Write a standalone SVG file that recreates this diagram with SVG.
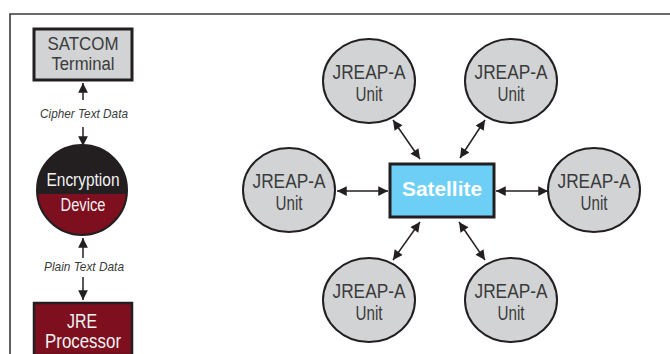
<svg xmlns="http://www.w3.org/2000/svg" width="670" height="354" viewBox="0 0 670 354">
  <style>
    .frame { fill: none; stroke: #3a3a3a; stroke-width: 1.6; }
    .lbl { font-family: "Liberation Sans", Arial, sans-serif; text-anchor: middle; }
    .dark { fill: #3b3b3b; }
    .light { fill: #f2f2f2; }
    .unit ellipse { fill: #d1d3d4; stroke: #231f20; stroke-width: 2; }
    .unit text { font-size: 20px; }
    .data { font-size: 13px; font-style: italic; fill: #3b3b3b; }
    .link { stroke: #231f20; stroke-width: 1.5; fill: none; }
    .biarrow { marker-start: url(#head); marker-end: url(#head); }
  </style>
  <defs>
    <marker id="head" viewBox="0 0 10 10" refX="10" refY="5" markerWidth="7" markerHeight="6.5" markerUnits="strokeWidth" orient="auto-start-reverse">
      <path d="M0,0 L10,5 L0,10 Z" fill="#231f20"/>
    </marker>
  </defs>

  <!-- page frame: top and left rules -->
  <path class="frame" d="M10,354 L10,14 L670,14"/>

  <!-- left column: crypto chain -->
  <g id="satcom-terminal">
    <rect x="34" y="29" width="98" height="51" fill="#d1d3d4" stroke="#231f20" stroke-width="3"/>
    <text class="lbl dark" x="83" y="50" font-size="18" textLength="71" lengthAdjust="spacingAndGlyphs">SATCOM</text>
    <text class="lbl dark" x="83" y="70" font-size="18" textLength="63" lengthAdjust="spacingAndGlyphs">Terminal</text>
  </g>

  <g id="encryption-device">
    <clipPath id="enc-clip"><circle cx="82" cy="190" r="45"/></clipPath>
    <g clip-path="url(#enc-clip)">
      <rect x="36" y="144" width="92" height="50" fill="#231f20"/>
      <rect x="36" y="194" width="92" height="52" fill="#7d0f1f"/>
    </g>
    <circle cx="82" cy="190" r="45" fill="none" stroke="#231f20" stroke-width="2"/>
    <text class="lbl light" x="83" y="186" font-size="19" textLength="73" lengthAdjust="spacingAndGlyphs">Encryption</text>
    <text class="lbl light" x="83" y="211" font-size="19" textLength="45" lengthAdjust="spacingAndGlyphs">Device</text>
  </g>

  <g id="jre-processor">
    <rect x="34" y="303" width="98" height="52" fill="#7d0f1f" stroke="#231f20" stroke-width="2.5"/>
    <text class="lbl light" x="82" y="328" font-size="20" textLength="30" lengthAdjust="spacingAndGlyphs">JRE</text>
    <text class="lbl light" x="83" y="348" font-size="20" textLength="76" lengthAdjust="spacingAndGlyphs">Processor</text>
  </g>

  <g id="left-links">
    <line class="link" x1="83" y1="100" x2="83" y2="83" marker-end="url(#head)"/>
    <text class="lbl data" x="84" y="118" textLength="88" lengthAdjust="spacingAndGlyphs">Cipher Text Data</text>
    <line class="link" x1="83" y1="127" x2="83" y2="146" marker-end="url(#head)"/>
    <line class="link" x1="83" y1="258" x2="83" y2="238" marker-end="url(#head)"/>
    <text class="lbl data" x="84" y="271" textLength="80" lengthAdjust="spacingAndGlyphs">Plain Text Data</text>
    <line class="link" x1="83" y1="277" x2="83" y2="300" marker-end="url(#head)"/>
  </g>

  <!-- right side: satellite hub with JREAP-A units -->
  <g id="satellite">
    <rect x="390" y="164" width="104" height="53" fill="#6dcff6" stroke="#231f20" stroke-width="3"/>
    <text class="lbl" x="442" y="196" font-size="20" font-weight="bold" fill="#ffffff" textLength="80" lengthAdjust="spacingAndGlyphs">Satellite</text>
  </g>

  <g id="unit-top-left" class="unit">
    <ellipse cx="369" cy="81" rx="46" ry="42"/>
    <text class="lbl dark" x="369" y="79" textLength="73" lengthAdjust="spacingAndGlyphs">JREAP-A</text>
    <text class="lbl dark" x="369" y="101" textLength="27" lengthAdjust="spacingAndGlyphs">Unit</text>
  </g>
  <g id="unit-top-right" class="unit">
    <ellipse cx="511" cy="81" rx="46" ry="42"/>
    <text class="lbl dark" x="511" y="79" textLength="73" lengthAdjust="spacingAndGlyphs">JREAP-A</text>
    <text class="lbl dark" x="511" y="101" textLength="27" lengthAdjust="spacingAndGlyphs">Unit</text>
  </g>
  <g id="unit-left" class="unit">
    <ellipse cx="289" cy="190" rx="46" ry="42"/>
    <text class="lbl dark" x="289" y="188" textLength="73" lengthAdjust="spacingAndGlyphs">JREAP-A</text>
    <text class="lbl dark" x="289" y="210" textLength="27" lengthAdjust="spacingAndGlyphs">Unit</text>
  </g>
  <g id="unit-right" class="unit">
    <ellipse cx="594" cy="190" rx="46" ry="42"/>
    <text class="lbl dark" x="594" y="188" textLength="73" lengthAdjust="spacingAndGlyphs">JREAP-A</text>
    <text class="lbl dark" x="594" y="210" textLength="27" lengthAdjust="spacingAndGlyphs">Unit</text>
  </g>
  <g id="unit-bottom-left" class="unit">
    <ellipse cx="369" cy="300" rx="46" ry="42"/>
    <text class="lbl dark" x="369" y="298" textLength="73" lengthAdjust="spacingAndGlyphs">JREAP-A</text>
    <text class="lbl dark" x="369" y="320" textLength="27" lengthAdjust="spacingAndGlyphs">Unit</text>
  </g>
  <g id="unit-bottom-right" class="unit">
    <ellipse cx="511" cy="300" rx="46" ry="42"/>
    <text class="lbl dark" x="511" y="298" textLength="73" lengthAdjust="spacingAndGlyphs">JREAP-A</text>
    <text class="lbl dark" x="511" y="320" textLength="27" lengthAdjust="spacingAndGlyphs">Unit</text>
  </g>

  <g id="connectors">
    <line class="link biarrow" x1="393" y1="120" x2="420" y2="159"/>
    <line class="link biarrow" x1="485" y1="120" x2="460" y2="158"/>
    <line class="link biarrow" x1="337" y1="191" x2="388" y2="191"/>
    <line class="link biarrow" x1="496" y1="191" x2="548" y2="191"/>
    <line class="link biarrow" x1="420" y1="222" x2="393" y2="260"/>
    <line class="link biarrow" x1="459" y1="222" x2="485" y2="260"/>
  </g>
</svg>
